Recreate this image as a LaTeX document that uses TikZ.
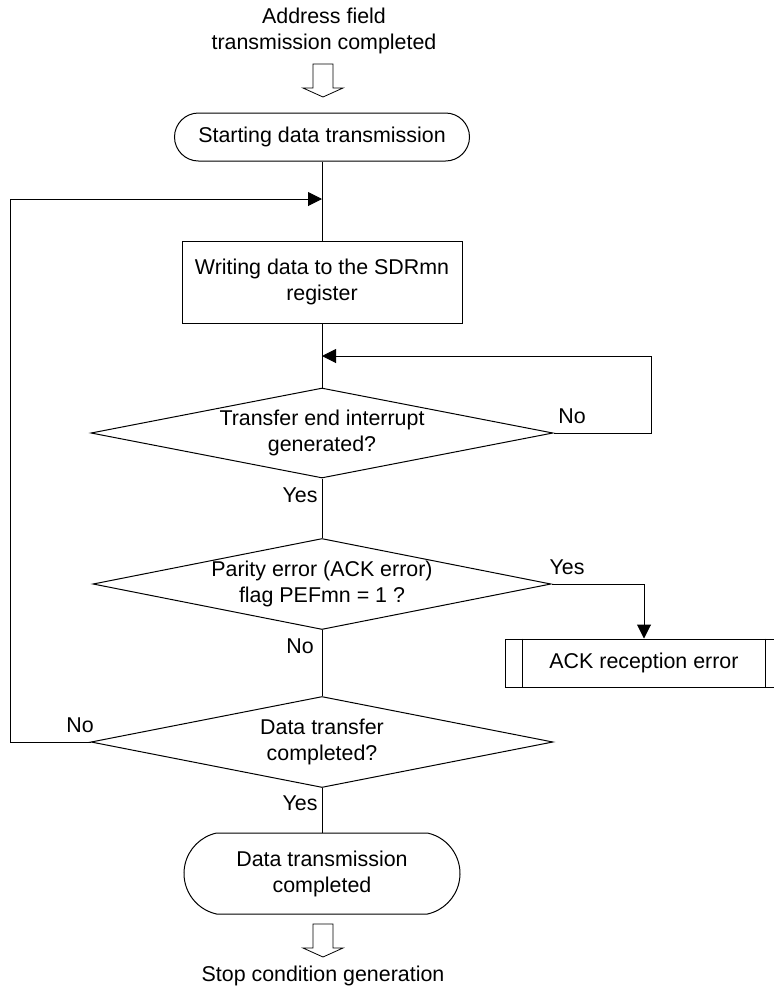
\documentclass[tikz,border=0pt]{standalone}
\usepackage{fontspec}
\setmainfont{Liberation Sans}
\usetikzlibrary{arrows.meta}
\usetikzlibrary{shapes.geometric,shapes.misc}

\begin{document}
\begin{tikzpicture}[x=1pt, y=-1pt, line width=1pt, >={Triangle[length=14pt,width=14pt]},
  font=\fontsize{21.4}{26}\selectfont,
  terminal/.style={draw, rounded rectangle, align=center, inner sep=0pt},
  process/.style={draw, rectangle, align=center, inner sep=0pt},
  decision/.style={draw, diamond, aspect=5, inner sep=0pt, align=center},
  answer/.style={inner sep=0pt}]
  % hollow arrow, shaft top centre at (#1,#2)
  \newcommand{\openarrow}[2]{%
    \draw[line width=0.8pt, line join=miter] (#1,#2) ++(-10,0) -- ++(0,24) -- ++(-10,0) -- ++(20,9)
      -- ++(20,-9) -- ++(-10,0) -- ++(0,-24) -- cycle;
  }
  \useasboundingbox (0,0) rectangle (774,994);
  \clip (0,0) rectangle (774,994);
  % ---------------------------------------------------------------- entry
  \node[align=center] (addr) at (324,31) {Address field\\transmission completed};
  \openarrow{323}{64}
  \node[terminal, minimum width=295pt, minimum height=48pt] (start) at (322,137) {Starting data transmission};
  % ---------------------------------------------------------------- write and wait
  \node[process, minimum width=280pt, minimum height=82pt] (write) at (322,282) {Writing data to the SDRmn\\register};
  \node[decision, minimum width=462pt, minimum height=90pt] (tend) at (322,433) {Transfer end interrupt\\generated?};
  \coordinate (jtop) at (322,199);
  \coordinate (jwait) at (322,356);
  \coordinate (edgeL) at (10,199);
  \coordinate (edgeR) at (651,356);
  % ---------------------------------------------------------------- checks
  \node[decision, minimum width=458pt, minimum height=91pt] (parity) at (322,584) {Parity error (ACK error)\\flag PEFmn = 1 ?};
  \node[process, minimum width=278pt, minimum height=48pt] (ackerr) at (644,663) {ACK reception error};
  \draw ([xshift=18pt]ackerr.north west) -- ([xshift=18pt]ackerr.south west);
  \draw ([xshift=-18pt]ackerr.north east) -- ([xshift=-18pt]ackerr.south east);
  \node[decision, minimum width=462pt, minimum height=91pt] (done) at (322,742) {Data transfer\\completed?};
  % ---------------------------------------------------------------- exit
  \node[terminal, minimum width=276pt, minimum height=81pt, rounded rectangle arc length=155] (fin) at (322,873.5) {Data transmission\\completed};
  \openarrow{323}{924}
  \node (stop) at (323,976) {Stop condition generation};
  % connectors
  \draw (start.south) -- (write.north);
  \draw (write.south) -- (tend.north);
  \draw (tend.south) -- (parity.north);
  \draw (parity.south) -- (done.north);
  \draw (done.south) -- (fin.north);
  \draw[->] (tend.east) -| (edgeR) -- (jwait);
  \draw[->] (done.west) -| (edgeL) -- (jtop);
  \draw[->] (parity.east) -| (ackerr.north);
  % branch labels
  \node[answer] (tendno) at (572,416) {No};
  \node[answer] (tendyes) at (300,495) {Yes};
  \node[answer] (parityyes) at (567,567) {Yes};
  \node[answer] (parityno) at (300,646) {No};
  \node[answer] (doneno) at (80,725) {No};
  \node[answer] (doneyes) at (300,803) {Yes};
\end{tikzpicture}
\end{document}
